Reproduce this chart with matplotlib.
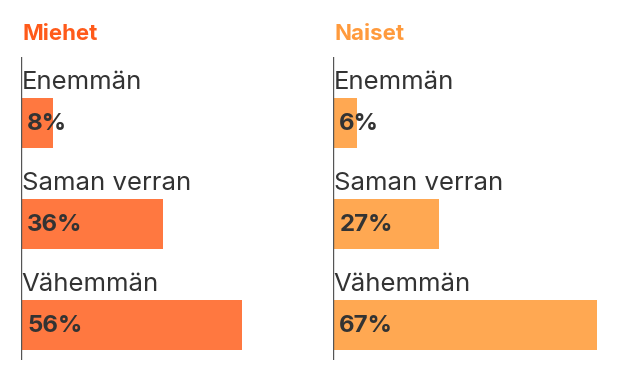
import matplotlib
matplotlib.use("Agg")
import matplotlib.pyplot as plt

categories = ["Enemmän", "Saman verran", "Vähemmän"]
men = [8, 36, 56]
women = [6, 27, 67]
titles = ["Miehet", "Naiset"]

plt.rcParams['font.family'] = ['Inter', 'DejaVu Sans']

W, H = 628, 380
fig = plt.figure(figsize=(W/100, H/100), dpi=100)

panels = [
    (21, men, "#FF7840", "#FF5A1A", titles[0]),
    (333, women, "#FFA852", "#FF9A3C", titles[1]),
]
ytop, ybot = 57, 360
pxw = 276

for x0, vals, bc, tc, title in panels:
    ax = fig.add_axes([x0/W, 1 - ybot/H, pxw/W, (ybot-ytop)/H])
    ax.set_xlim(0, 70)
    ax.set_ylim(3, 0)
    ax.axis('off')
    ax.axvline(0, color="#555555", lw=1)
    for i, (cat, v) in enumerate(zip(categories, vals)):
        ax.barh(i + 0.655, v, height=0.495, color=bc, left=0)
        ax.text(0.2, i + 0.25, cat, ha='left', va='center', fontsize=18.5, color="#333333")
        ax.text(1.6, i + 0.66, f"{v}%", ha='left', va='center', fontsize=17.3,
                fontweight='bold', color="#333333")
    fig.text((x0 + 1)/W, 1 - 33.5/H, title, ha='left', va='center', fontsize=16,
             fontweight='bold', color=tc)

fig.savefig("out.png", dpi=100)
